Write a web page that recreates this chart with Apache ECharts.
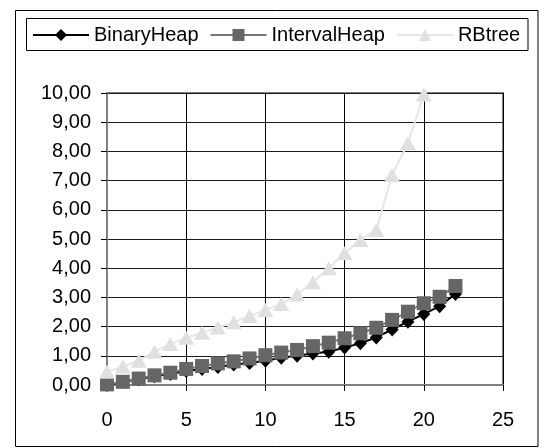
<!DOCTYPE html>
<html>
<head>
<meta charset="utf-8">
<script src="https://cdn.jsdelivr.net/npm/echarts@6/dist/echarts.min.js"></script>
<style>
html,body{margin:0;padding:0;background:#fff;}
#chart{width:547px;height:448px;}
</style>
</head>
<body>
<div id="chart"></div>
<script>
var xHeap = [0,1,2,3,4,5,6,7,8,9,10,11,12,13,14,15,16,17,18,19,20,21,22];
var xRB = [0,1,2,3,4,5,6,7,8,9,10,11,12,13,14,15,16,17,18,19,20];
var binaryHeap = [0.00,0.10,0.20,0.30,0.38,0.48,0.55,0.62,0.70,0.75,0.83,0.93,1.00,1.08,1.14,1.28,1.43,1.63,1.90,2.17,2.43,2.70,3.12];
var intervalHeap = [0.02,0.11,0.22,0.33,0.42,0.55,0.65,0.74,0.81,0.91,1.02,1.11,1.20,1.33,1.45,1.60,1.77,1.96,2.23,2.51,2.80,3.02,3.39];
var rbTree = [0.45,0.63,0.83,1.14,1.40,1.62,1.79,1.97,2.15,2.36,2.57,2.77,3.10,3.52,4.00,4.51,4.97,5.31,7.19,8.28,9.95];
var seriesNames = ['BinaryHeap','IntervalHeap','RBtree'];
var xTicks = {min:0, max:25, interval:5};
var yTicks = {min:0, max:10, interval:1};

function pairs(xs, ys){ return ys.map(function(v,i){ return [xs[i], v]; }); }

var FONT = '"Liberation Sans", Arial, sans-serif';
var chart = echarts.init(document.getElementById('chart'), null, {renderer:'canvas'});
chart.setOption({
  animation:false,
  backgroundColor:'#ffffff',
  textStyle:{fontFamily:FONT},
  graphic:[
    {type:'rect', shape:{x:15.5, y:10.5, width:522.5, height:436}, style:{fill:'none', stroke:'#000', lineWidth:1}, z:-1},
    {type:'rect', shape:{x:26.5, y:18.5, width:501.5, height:32}, style:{fill:'none', stroke:'#000', lineWidth:1}, z:-1}
  ],
  legend:{
    left:32, top:25,
    itemWidth:56, itemHeight:15, itemGap:11,
    padding:[0,0,0,0],
    textStyle:{fontSize:20, color:'#000', fontFamily:FONT, padding:[0,0,0,0]},
    data:seriesNames
  },
  grid:{left:107, right:44, top:93, bottom:63, show:true, borderColor:'#808080', borderWidth:2, containLabel:false},
  xAxis:{
    type:'value', min:xTicks.min, max:xTicks.max, interval:xTicks.interval,
    axisLine:{show:true, lineStyle:{color:'#808080', width:2}},
    axisTick:{show:true, inside:false, length:6, lineStyle:{color:'#000', width:1}},
    axisLabel:{fontSize:20, color:'#000', margin:25, fontFamily:FONT},
    splitLine:{show:true, lineStyle:{color:'#000', width:1}}
  },
  yAxis:{
    type:'value', min:yTicks.min, max:yTicks.max, interval:yTicks.interval,
    axisLine:{show:true, lineStyle:{color:'#808080', width:2}},
    axisTick:{show:true, inside:false, length:6, lineStyle:{color:'#000', width:1}},
    axisLabel:{fontSize:20, color:'#000', margin:16, fontFamily:FONT,
      formatter:function(v){ return v.toFixed(2).replace('.', ','); }},
    splitLine:{show:true, lineStyle:{color:'#1a1a1a', width:1}}
  },
  series:[
    {name:seriesNames[0], type:'line', data:pairs(xHeap, binaryHeap),
      symbol:'diamond', symbolSize:[13,14], showAllSymbol:true,
      lineStyle:{color:'#000', width:2}, itemStyle:{color:'#000', borderWidth:0}, z:2},
    {name:seriesNames[1], type:'line', data:pairs(xHeap, intervalHeap),
      symbol:'rect', symbolSize:14, showAllSymbol:true,
      lineStyle:{color:'#777', width:2}, itemStyle:{color:'#666', borderWidth:0}, z:3},
    {name:seriesNames[2], type:'line', data:pairs(xRB, rbTree),
      symbol:'triangle', symbolSize:[16,14], showAllSymbol:true,
      lineStyle:{color:'#e6e6e6', width:2}, itemStyle:{color:'#e0e0e0', borderWidth:0}, z:4}
  ]
});
</script>
</body>
</html>
